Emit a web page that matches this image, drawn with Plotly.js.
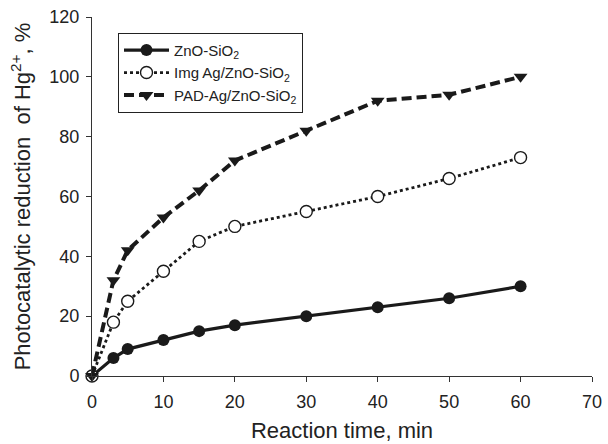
<!DOCTYPE html>
<html>
<head>
<meta charset="utf-8">
<script src="https://cdn.plot.ly/plotly-3.0.1.min.js"></script>
<style>html,body{margin:0;padding:0;background:#fff;}#chart{width:608px;height:444px;}</style>
</head>
<body>
<div id="chart"></div>
<script>
const time = [0, 3, 5, 10, 15, 20, 30, 40, 50, 60];
const znoSio2 = [0, 6, 9, 12, 15, 17, 20, 23, 26, 30];
const imgAg = [0, 18, 25, 35, 45, 50, 55, 60, 66, 73];
const padAg = [0, 32, 42, 53, 62, 72, 82, 92, 94, 100];
const seriesNames = ['ZnO-SiO<sub>2</sub>', 'Img Ag/ZnO-SiO<sub>2</sub>', 'PAD-Ag/ZnO-SiO<sub>2</sub>'];
const xTicks = [0, 10, 20, 30, 40, 50, 60, 70];
const yTicks = [0, 20, 40, 60, 80, 100, 120];

const ink = '#1a1a1a';
const traces = [
  {x: time, y: znoSio2, name: seriesNames[0], mode: 'lines+markers', cliponaxis: false,
   line: {color: ink, width: 3.2}, marker: {symbol: 'circle', size: 12, color: ink}},
  {x: time, y: imgAg, name: seriesNames[1], mode: 'lines+markers', cliponaxis: false,
   line: {color: ink, width: 2.8, dash: 'dot'}, marker: {symbol: 'circle', size: 12, color: '#fff', line: {width: 1.4, color: ink}}},
  {x: time, y: padAg, name: seriesNames[2], mode: 'lines+markers', cliponaxis: false,
   line: {color: ink, width: 4, dash: '10px,5px'}, marker: {symbol: 'triangle-down', size: 12, color: ink}}
];

const layout = {
  width: 608, height: 444,
  margin: {l: 92, r: 16, t: 17, b: 68},
  paper_bgcolor: '#fff', plot_bgcolor: '#fff',
  font: {family: 'Liberation Sans, Arial, sans-serif', color: '#222', size: 18},
  showlegend: true,
  legend: {x: 0.052, y: 0.956, xanchor: 'left', yanchor: 'top', bordercolor: '#222', borderwidth: 1,
           bgcolor: '#fff', font: {size: 15, color: '#222'}, itemwidth: 45, tracegroupgap: 0},
  xaxis: {range: [0, 70], tickvals: xTicks, ticktext: xTicks.map(String), ticks: 'outside', ticklen: 5,
          tickcolor: '#333', showline: true, linecolor: '#333', linewidth: 1, showgrid: false, zeroline: false,
          ticklabelstandoff: 4,
          tickfont: {size: 18}, title: {text: 'Reaction time, min', font: {size: 22}, standoff: 12}},
  yaxis: {range: [0, 120], tickvals: yTicks, ticktext: yTicks.map(String), ticks: 'outside', ticklen: 5,
          tickcolor: '#333', showline: true, linecolor: '#333', linewidth: 1, showgrid: false, zeroline: false,
          ticklabelstandoff: 3,
          tickfont: {size: 18}, title: {text: 'Photocatalytic reduction  of Hg<sup>2+</sup>, %', font: {size: 22}, standoff: 12}}
};
Plotly.newPlot('chart', traces, layout, {displayModeBar: false, staticPlot: true});
</script>
</body>
</html>
